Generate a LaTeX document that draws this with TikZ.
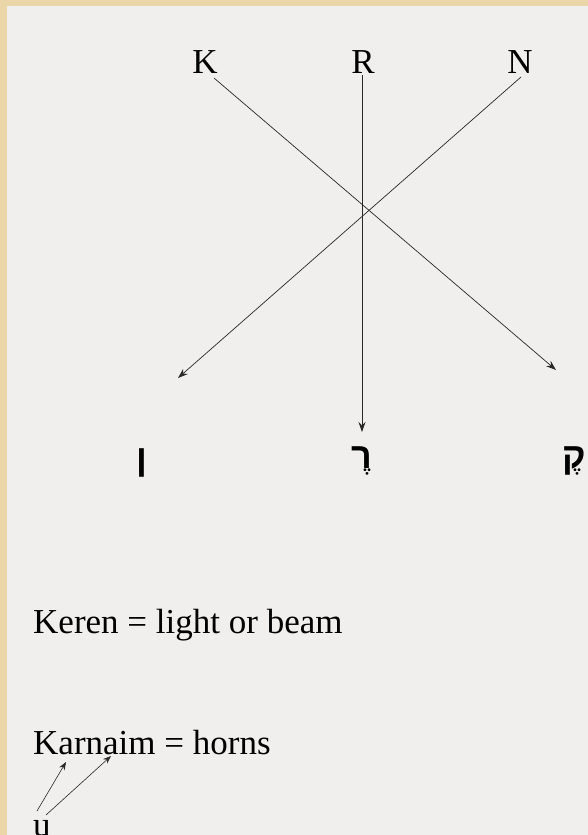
\documentclass[tikz,border=0pt]{standalone}
\usepackage{fontspec}
\setmainfont{Liberation Serif}
\newfontfamily\hebfont[Script=Hebrew]{Liberation Sans}
\TeXXeTstate=1
\usetikzlibrary{arrows.meta}
\definecolor{parch}{RGB}{234,214,168}
\definecolor{paper}{RGB}{240,239,238}
\definecolor{ink}{RGB}{40,40,40}
\tikzset{
  lbl/.style={inner sep=0pt, anchor=base, font=\fontsize{35}{40}\selectfont},
  txt/.style={inner sep=0pt, anchor=base west, font=\fontsize{35}{40}\selectfont},
  heb/.style={inner sep=0pt, anchor=base, font=\hebfont\bfseries\fontsize{36}{40}\selectfont},
  ray/.style={draw=ink, line width=0.7pt, -{Stealth[length=10pt,width=7pt]}},
  small ray/.style={draw=ink, line width=0.6pt, -{Stealth[length=8pt,width=6pt]}}
}
\begin{document}
\begin{tikzpicture}[x=1pt,y=-1pt]
\useasboundingbox (0,0) rectangle (588,835);
\fill[parch] (0,0) rectangle (588,835);
\fill[paper] (7,6) rectangle (588,835);
% letters
\node[lbl] (K) at (205,73) {K};
\node[lbl] (R) at (363,73) {R};
\node[lbl] (N) at (520,73) {N};
% line endpoints
\coordinate (Ks) at (214,78);
\coordinate (Rs) at (362,75);
\coordinate (Ns) at (521,77);
\coordinate (Ke) at (556,370);
\coordinate (Re) at (362,432);
\coordinate (Ne) at (178,378);
\draw[ray] (Ks) -- (Ke);
\draw[ray] (Rs) -- (Re);
\draw[ray] (Ns) -- (Ne);
% hebrew letters
\node[heb] (nun) at (142,470) {\beginR ן\endR};
\node[heb] (resh) at (362,468) {\beginR רֶ\endR};
\node[heb] (qof) at (574,468) {\beginR קֶ\endR};
% texts
\node[txt] (keren) at (33,633) {Keren = light or beam};
\node[txt] (karnaim) at (33,754) {Karnaim = horns};
\node[txt] (u) at (33,836) {u};
\coordinate (u1) at (37,811);
\coordinate (u2) at (46,815);
\coordinate (a1) at (66,762);
\coordinate (a2) at (111,756);
\draw[small ray] (u1) -- (a1);
\draw[small ray] (u2) -- (a2);
\end{tikzpicture}
\end{document}
